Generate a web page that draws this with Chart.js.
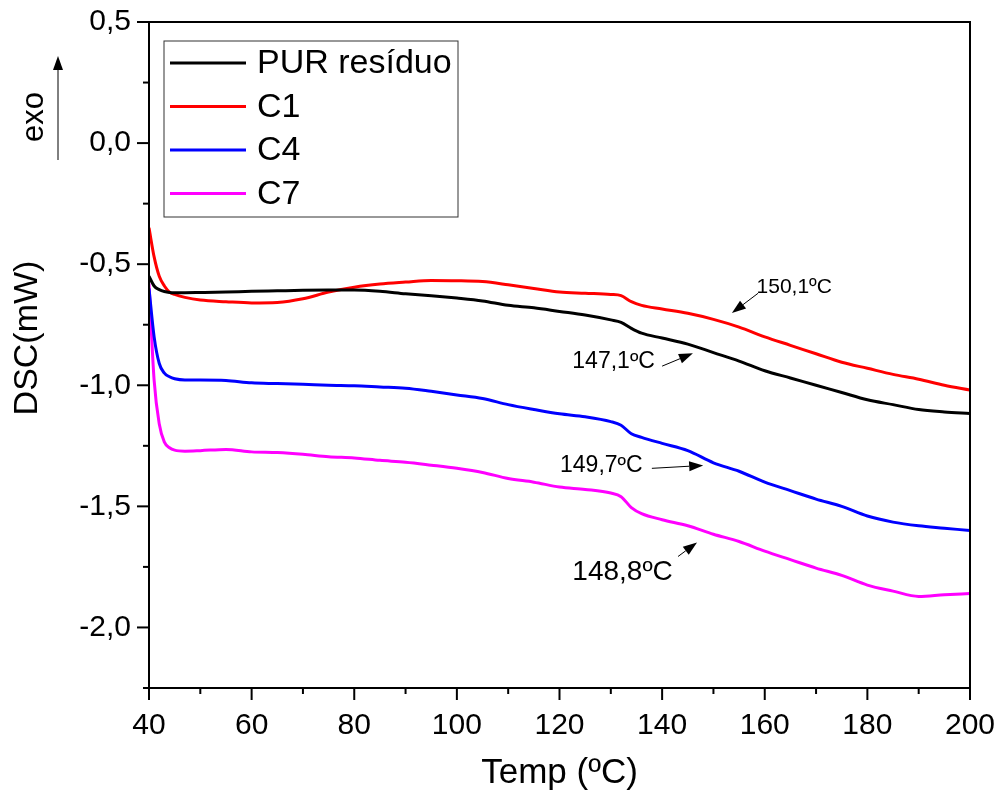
<!DOCTYPE html>
<html>
<head>
<meta charset="utf-8">
<script src="https://cdn.jsdelivr.net/npm/chart.js@4.4.1/dist/chart.umd.min.js"></script>
<style>
    html, body { margin: 0; padding: 0; background: #fff; }
    #dscChart { display: block; }
</style>
</head>
<body>
<canvas id="dscChart" width="997" height="794"></canvas>
<script>

// ------------------------------
// Data
// ------------------------------

const temps = [40, 41, 42, 43, 44, 45, 47, 50, 55, 60, 65, 70, 75, 80, 85, 90, 95, 100, 105, 110,
    115, 120, 125, 130, 132, 134, 136, 140, 145, 150, 155, 160, 165, 170, 175, 180, 185, 190, 195, 200];

const purResiduo = [-0.55, -0.59, -0.605, -0.613, -0.617, -0.618, -0.618, -0.617, -0.615, -0.612,
    -0.61, -0.608, -0.607, -0.607, -0.612, -0.622, -0.63, -0.64, -0.652, -0.67,
    -0.68, -0.695, -0.71, -0.73, -0.74, -0.765, -0.785, -0.805, -0.83, -0.865,
    -0.9, -0.94, -0.97, -1.0, -1.03, -1.06, -1.08, -1.1, -1.11, -1.117];

const c1 = [-0.35, -0.47, -0.55, -0.59, -0.615, -0.625, -0.637, -0.648, -0.655, -0.66,
    -0.658, -0.643, -0.615, -0.595, -0.582, -0.574, -0.567, -0.568, -0.572, -0.585,
    -0.6, -0.615, -0.62, -0.625, -0.63, -0.655, -0.67, -0.685, -0.703, -0.728,
    -0.76, -0.8, -0.835, -0.87, -0.905, -0.93, -0.955, -0.975, -1.0, -1.02];

const c4 = [-0.6, -0.8, -0.91, -0.95, -0.965, -0.973, -0.978, -0.978, -0.98, -0.99,
    -0.993, -0.996, -1.0, -1.002, -1.007, -1.012, -1.025, -1.04, -1.055, -1.08,
    -1.1, -1.118, -1.13, -1.15, -1.165, -1.2, -1.215, -1.24, -1.27, -1.32,
    -1.355, -1.4, -1.435, -1.47, -1.5, -1.54, -1.565, -1.58, -1.59, -1.6];

const c7 = [-0.58, -0.98, -1.16, -1.235, -1.258, -1.268, -1.272, -1.27, -1.265, -1.275,
    -1.278, -1.285, -1.295, -1.3, -1.31, -1.318, -1.33, -1.343, -1.36, -1.385,
    -1.4, -1.42, -1.43, -1.445, -1.46, -1.505, -1.53, -1.555, -1.58, -1.615,
    -1.645, -1.685, -1.72, -1.755, -1.785, -1.825, -1.85, -1.872, -1.865, -1.86];

const seriesNames = ["PUR resíduo", "C1", "C4", "C7"];
const seriesColors = ["#000000", "#ff0000", "#0000ff", "#ff00ff"];

// annotated transition temperatures: label, text anchor, arrow tail, arrow head (data units)
const notes = [
    { text: "150,1ºC", size: 21, at: [158.4, -0.595], tail: [158.7, -0.62], head: [153.6, -0.702] },
    { text: "147,1ºC", size: 23, at: [122.5, -0.901], tail: [140.0, -0.921], head: [146.0, -0.868] },
    { text: "149,7ºC", size: 23, at: [120.1, -1.331], tail: [138.0, -1.343], head: [148.0, -1.331] },
    { text: "148,8ºC", size: 28, at: [122.5, -1.773], tail: [143.1, -1.707], head: [146.8, -1.649] }
];

const FONT = "'Liberation Sans', Arial, sans-serif";
Chart.defaults.font.family = FONT;
Chart.defaults.color = "#000";

function toPoints(values) {
    return temps.map((t, i) => ({ x: t, y: values[i] }));
}

function isMajorY(v) {
    return Math.abs(v * 2 - Math.round(v * 2)) < 1e-6;
}

function drawArrow(ctx, x1, y1, x2, y2) {
    const ang = Math.atan2(y2 - y1, x2 - x1);
    const len = 14, half = 5;
    const bx = x2 - len * Math.cos(ang), by = y2 - len * Math.sin(ang);
    ctx.beginPath();
    ctx.moveTo(x1, y1);
    ctx.lineTo(bx, by);
    ctx.stroke();
    ctx.beginPath();
    ctx.moveTo(x2, y2);
    ctx.lineTo(bx + half * Math.sin(ang), by - half * Math.cos(ang));
    ctx.lineTo(bx - half * Math.sin(ang), by + half * Math.cos(ang));
    ctx.closePath();
    ctx.fill();
}

function drawVerticalText(ctx, text, size, cx, cy) {
    ctx.save();
    ctx.translate(cx, cy);
    ctx.rotate(-Math.PI / 2);
    ctx.font = size + "px " + FONT;
    ctx.textAlign = "center";
    ctx.textBaseline = "middle";
    ctx.fillText(text, 0, 0);
    ctx.restore();
}

// ------------------------------
// Frame, ticks, legend, notes
// ------------------------------

const decor = {
    id: "decor",
    afterDatasetsDraw(chart) {
        const ctx = chart.ctx;
        const area = chart.chartArea;
        const xs = chart.scales.x, ys = chart.scales.y;

        ctx.save();
        ctx.strokeStyle = "#000";
        ctx.fillStyle = "#000";

        // frame
        ctx.lineWidth = 2;
        ctx.strokeRect(area.left, area.top, area.right - area.left, area.bottom - area.top);

        // outward ticks, long for labelled values
        xs.ticks.forEach(t => {
            const px = xs.getPixelForValue(t.value);
            const len = t.value % 20 === 0 ? 12 : 6;
            ctx.beginPath();
            ctx.moveTo(px, area.bottom);
            ctx.lineTo(px, area.bottom + len);
            ctx.stroke();
        });
        ys.ticks.forEach(t => {
            const py = ys.getPixelForValue(t.value);
            const len = isMajorY(t.value) ? 12 : 6;
            ctx.beginPath();
            ctx.moveTo(area.left, py);
            ctx.lineTo(area.left - len, py);
            ctx.stroke();
        });

        // legend box inside the plot
        const lx = area.left + 15, ly = area.top + 19;
        ctx.lineWidth = 1;
        ctx.strokeStyle = "#333";
        ctx.strokeRect(lx, ly, 294, 176);
        ctx.font = "34px " + FONT;
        ctx.textBaseline = "middle";
        chart.data.datasets.forEach((ds, i) => {
            const ry = ly + 22 + i * 43.5;
            ctx.strokeStyle = ds.borderColor;
            ctx.lineWidth = 3;
            ctx.beginPath();
            ctx.moveTo(lx + 6, ry);
            ctx.lineTo(lx + 82, ry);
            ctx.stroke();
            ctx.fillStyle = "#000";
            ctx.fillText(ds.label, lx + 93, ry + 1);
        });

        // temperature notes with arrows
        ctx.strokeStyle = "#000";
        ctx.fillStyle = "#000";
        ctx.lineWidth = 1;
        notes.forEach(n => {
            ctx.font = n.size + "px " + FONT;
            ctx.textAlign = "left";
            ctx.fillText(n.text, xs.getPixelForValue(n.at[0]), ys.getPixelForValue(n.at[1]));
            drawArrow(ctx,
                xs.getPixelForValue(n.tail[0]), ys.getPixelForValue(n.tail[1]),
                xs.getPixelForValue(n.head[0]), ys.getPixelForValue(n.head[1]));
        });

        // "exo" direction marker and y axis title, left of the axis
        const ax = area.left - 91;
        ctx.lineWidth = 1;
        drawArrow(ctx, ax, area.top + 138, ax, area.top + 34);
        drawVerticalText(ctx, "exo", 31, area.left - 115, area.top + 95);
        drawVerticalText(ctx, "DSC(mW)", 34, area.left - 121, area.top + 316);

        ctx.restore();
    }
};

// ------------------------------
// DSC curves (Line)
// ------------------------------

const dscChart = new Chart(document.getElementById("dscChart"), {

    type: "line",

    data: {
        datasets: [purResiduo, c1, c4, c7].map((values, i) => ({
            label: seriesNames[i],
            data: toPoints(values),
            borderColor: seriesColors[i],
            borderWidth: 3,
            pointRadius: 0,
            cubicInterpolationMode: "monotone",
            fill: false
        }))
    },

    options: {
        responsive: false,
        animation: false,
        events: [],
        layout: {
            padding: { top: 22, right: 27, left: 0, bottom: 0 }
        },
        plugins: {
            legend: { display: false },
            tooltip: { enabled: false }
        },
        scales: {
            x: {
                type: "linear",
                min: 40,
                max: 200,
                grid: { display: false },
                border: { display: false },
                ticks: {
                    stepSize: 10,
                    padding: 12,
                    maxRotation: 0,
                    autoSkip: false,
                    font: { size: 30 },
                    callback: v => (v % 20 === 0 ? String(v) : "")
                },
                title: {
                    display: true,
                    text: "Temp (ºC)",
                    font: { size: 35 },
                    padding: { top: 0, bottom: 0 }
                },
                afterFit: scale => {
                    scale.height = 106;
                    scale.paddingLeft = 0;
                    scale.paddingRight = 0;
                }
            },
            y: {
                min: -2.25,
                max: 0.5,
                grid: { display: false },
                border: { display: false },
                ticks: {
                    stepSize: 0.25,
                    padding: 10,
                    autoSkip: false,
                    font: { size: 30 },
                    callback: v => (isMajorY(v) ? v.toFixed(1).replace(".", ",") : "")
                },
                title: { display: false },
                afterFit: scale => {
                    scale.width = 149;
                    scale.paddingTop = 0;
                    scale.paddingBottom = 0;
                }
            }
        }
    },

    plugins: [decor]

});

</script>
</body>
</html>
